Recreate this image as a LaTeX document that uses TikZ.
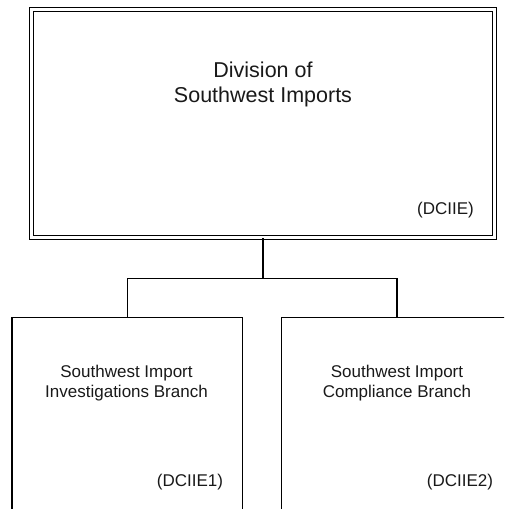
\documentclass[tikz,border=0pt]{standalone}
\usepackage{fontspec}
\setmainfont{Liberation Sans}
\usetikzlibrary{calc}
\tikzset{
	unitbox/.style={draw=black, line width=1.3pt, inner sep=0pt, fill=none},
	headbox/.style={draw=black, line width=1.3pt, double=white, double distance=2.6pt, inner sep=0pt},
	link/.style={draw=black, line width=1.3pt},
	bigtext/.style={align=center, inner sep=0pt, text=black!90, font=\fontsize{21.5}{25}\selectfont},
	smalltext/.style={align=center, inner sep=0pt, text=black!90, font=\fontsize{17}{20}\selectfont}
}

\begin{document}
\begin{tikzpicture}[x=1pt, y=1pt]
			%%%%% START %%%%%
			\useasboundingbox (0, 0) rectangle (504, 509);
			\clip (0, 0) rectangle (504, 509);
			
			\node[headbox, minimum width=463pt, minimum height=228.3pt] (div) at (263, 385.6) {};
			\node[bigtext] (divname) at (263, 424.5) {Division of\\Southwest Imports};
			\node[smalltext] (divcode) at (445.5, 299) {(DCIIE)};
			
			\node[unitbox, minimum width=230.3pt, minimum height=202.7pt] (inv) at (127.2, 90.35) {};
			\node[smalltext] (invname) at (126.5, 126) {Southwest Import\\Investigations Branch};
			\node[smalltext] (invcode) at (190, 27) {(DCIIE1)};
			
			\node[unitbox, minimum width=230.3pt, minimum height=202.7pt] (comp) at (396.85, 90.35) {};
			\node[smalltext] (compname) at (397, 126) {Southwest Import\\Compliance Branch};
			\node[smalltext] (compcode) at (460, 27) {(DCIIE2)};
			
			\coordinate (bar) at (div.south |- 0, 230.3);
			\draw[link] (div.south) -- (bar);
			\draw[link] (inv.north) |- (bar) -| (comp.north);
			%%%%% END %%%%%
		\end{tikzpicture}
\end{document}
